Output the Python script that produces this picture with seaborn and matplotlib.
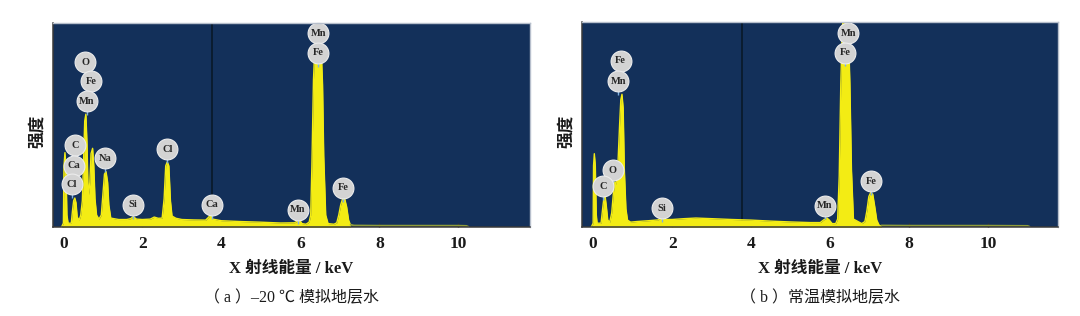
import numpy as np
import matplotlib
matplotlib.use("Agg")
import matplotlib.pyplot as plt
import matplotlib.transforms as mtransforms
import seaborn as sns

# ---- EDS spectrum (a): -20 C simulated formation water; energy in keV, intensity in % of full scale
energy_a = [-0.05, 0.00, 0.015, 0.04, 0.065, 0.09, 0.12, 0.20, 0.23, 0.26, 0.29, 0.32, 0.35, 0.40,
            0.44, 0.48, 0.51, 0.54, 0.57, 0.60, 0.62, 0.64, 0.67, 0.70, 0.74, 0.77, 0.80, 0.84,
            0.90, 0.96, 1.00, 1.04, 1.08, 1.12, 1.15, 1.20, 1.40, 1.60, 1.70, 1.77, 1.85, 2.00,
            2.20, 2.30, 2.40, 2.50, 2.55, 2.59, 2.63, 2.67, 2.71, 2.75, 2.85, 3.00, 3.30, 3.60,
            3.68, 3.73, 3.78, 4.00, 4.50, 5.00, 5.50, 5.85, 5.92, 5.97, 6.04, 6.14, 6.22, 6.26,
            6.29, 6.33, 6.37, 6.42, 6.47, 6.52, 6.56, 6.59, 6.64, 6.70, 6.85, 6.92, 6.97, 7.02,
            7.07, 7.12, 7.17, 7.22, 7.27, 7.35, 8.00, 9.00, 10.00, 10.20, 10.25]
counts_a = [0.0, 2.0, 30.0, 36.5, 30.0, 6.0, 2.0, 2.0, 8.0, 13.0, 14.3, 12.0, 5.0, 3.5,
            6.0, 13.0, 32.0, 52.0, 55.3, 40.0, 22.0, 16.0, 22.0, 36.0, 38.6, 30.0, 14.0, 6.0,
            4.0, 6.0, 16.0, 26.0, 27.2, 22.0, 11.0, 4.5, 3.8, 3.8, 4.2, 5.2, 4.0, 3.8,
            4.0, 5.0, 4.4, 4.5, 14.0, 30.0, 32.0, 30.0, 13.0, 5.5, 4.4, 3.8, 3.6, 3.5,
            5.0, 6.5, 4.0, 3.2, 2.8, 2.5, 2.1, 2.2, 3.0, 3.8, 1.8, 1.5, 2.5, 6.0,
            30.0, 72.0, 90.0, 93.5, 93.5, 90.0, 70.0, 35.0, 6.0, 1.8, 1.5, 2.2, 6.0, 11.0,
            14.0, 14.0, 10.0, 3.5, 1.0, 0.6, 0.5, 0.5, 0.5, 0.4, 0.0]

# ---- EDS spectrum (b): room-temperature simulated formation water
energy_b = [-0.05, 0.00, 0.01, 0.03, 0.055, 0.08, 0.10, 0.20, 0.24, 0.27, 0.30, 0.33, 0.37, 0.42,
            0.47, 0.51, 0.54, 0.58, 0.63, 0.67, 0.70, 0.73, 0.76, 0.79, 0.83, 0.87, 0.95, 1.10,
            1.40, 1.65, 1.74, 1.82, 2.00, 2.30, 2.60, 3.00, 3.50, 4.00, 4.50, 5.00, 5.50, 5.75,
            5.85, 5.92, 5.98, 6.05, 6.14, 6.19, 6.23, 6.27, 6.31, 6.36, 6.41, 6.46, 6.50, 6.54,
            6.59, 6.80, 6.88, 6.93, 6.98, 7.03, 7.08, 7.13, 7.18, 7.24, 7.30, 8.00, 9.00, 10.00,
            11.00, 11.05]
counts_b = [0.0, 2.0, 30.0, 35.8, 30.0, 6.0, 2.0, 2.0, 9.0, 14.0, 15.5, 11.0, 3.5, 2.5,
            7.0, 16.0, 22.0, 21.0, 32.0, 50.0, 62.0, 64.7, 58.0, 28.0, 9.0, 3.5, 2.5, 2.8,
            3.2, 3.6, 5.0, 3.8, 3.8, 4.2, 4.5, 4.2, 3.8, 3.5, 3.0, 2.6, 2.3, 2.3,
            3.8, 4.5, 3.5, 1.8, 1.8, 4.0, 25.0, 70.0, 98.0, 104.0, 104.0, 98.0, 70.0, 28.0,
            4.0, 1.8, 2.8, 8.0, 15.0, 17.0, 16.0, 10.0, 3.5, 1.0, 0.6, 0.5, 0.5, 0.5,
            0.4, 0.0]

# ---- element tags (symbol, energy keV, height %)
tags_a = ["O", "Fe", "Mn", "C", "Ca", "Cl", "Na", "Si", "Cl", "Ca", "Mn", "Mn", "Fe", "Fe"]
tag_x_a = [0.55, 0.71, 0.60, 0.29, 0.27, 0.22, 1.05, 1.77, 2.63, 3.75, 5.94, 6.45, 6.45, 7.08]
tag_y_a = [80.7, 71.5, 61.7, 40.0, 30.0, 21.0, 33.7, 10.9, 38.1, 10.9, 8.5, 94.8, 85.3, 19.4]

tags_b = ["Fe", "Mn", "O", "C", "Si", "Mn", "Mn", "Fe", "Fe"]
tag_x_b = [0.70, 0.64, 0.50, 0.25, 1.74, 5.87, 6.46, 6.38, 7.03]
tag_y_b = [81.0, 71.1, 27.7, 20.0, 9.3, 10.6, 94.3, 85.0, 22.4]

marker_keV = 3.77
xticks = [0, 2, 4, 6, 8, 10]
xlabel = "X 射线能量 / keV"
ylabel = "强度"
captions = ["（ a ）–20 ℃ 模拟地层水", "（ b ）常温模拟地层水"]

# ---- styling
sns.set_theme(style="white")
plt.rcParams["font.family"] = ["Liberation Serif", "Noto Sans CJK SC", "DejaVu Sans"]

NAVY = "#13305a"
YELLOW = "#f3ec14"
TAIL = "#8f9c3a"

fig = plt.figure(figsize=(10.8, 3.16), dpi=100)
ax_a = fig.add_axes([0.0488, 0.2807, 0.4419, 0.6475])
ax_b = fig.add_axes([0.5386, 0.2807, 0.4407, 0.6506])


def draw_panel(ax, energy, counts, tags, tx, ty, xlim, caption):
    e = np.asarray(energy)
    c = np.asarray(counts)
    ax.set_facecolor(NAVY)
    main = e <= 7.30
    ax.fill_between(e[main], 0, c[main], color=YELLOW, lw=0, zorder=2)
    sns.lineplot(x=e[main], y=c[main], ax=ax, color=YELLOW, lw=1.0, zorder=3,
                 estimator=None, sort=False)
    tail = e >= 7.25
    sns.lineplot(x=e[tail], y=c[tail] + 0.3, ax=ax, color=TAIL, lw=1.3, zorder=3,
                 estimator=None, sort=False)
    ax.axvline(marker_keV, color="#0a1a2c", lw=1.3, zorder=1)

    # element tags: grey discs with symbol and a small pointer below
    ax.scatter(tx, ty, s=225, color="#d3d3d3", edgecolor="#ececec", linewidth=0.8,
               zorder=5, clip_on=False)
    below = mtransforms.offset_copy(ax.transData, fig=ax.figure, x=0, y=-8.6, units="points")
    ax.scatter(tx, ty, s=9, marker="|", color="#7fb0e0", linewidth=1.0, zorder=4,
               transform=below, clip_on=False)
    for t, x, y in zip(tags, tx, ty):
        ax.text(x, y, t, ha="center", va="center", fontsize=7.5, fontweight="bold",
                color="#262626", family="Liberation Serif", zorder=6)

    ax.set_xlim(*xlim)
    ax.set_ylim(0, 100)
    ax.set_xticks(xticks)
    ax.set_xticklabels([str(v) for v in xticks], fontsize=12.5, fontweight="bold",
                       color="#1a1a1a")
    ax.set_yticks([])
    ax.tick_params(axis="x", direction="in", length=3, width=1, color="#333333",
                   pad=6, bottom=True)
    ax.set_xlabel("")
    ax.set_ylabel("")
    for side in ("left", "bottom"):
        ax.spines[side].set_color("#3a3a3a")
        ax.spines[side].set_linewidth(1.1)
    for side in ("top", "right"):
        ax.spines[side].set_color("#b7bfcc")
        ax.spines[side].set_linewidth(1.0)
    for sp in ax.spines.values():
        sp.set_zorder(7)

    pos = ax.get_position()
    cx = (pos.x0 + pos.x1) / 2
    fig.text(cx, 0.148, xlabel, ha="center", va="center", fontsize=12,
             fontweight="bold", color="#1a1a1a")
    fig.text(cx, 0.058, caption, ha="center", va="center", fontsize=11.5,
             color="#1a1a1a")
    fig.text(pos.x0 - 0.0135, 0.585, ylabel, ha="center", va="center", rotation=90,
             fontsize=12, fontweight="bold", color="#1a1a1a")


draw_panel(ax_a, energy_a, counts_a, tags_a, tag_x_a, tag_y_a, (-0.27, 11.81), captions[0])
draw_panel(ax_b, energy_b, counts_b, tags_b, tag_x_b, tag_y_b, (-0.29, 11.76), captions[1])

fig.savefig("out.png", dpi=100, facecolor="white")
